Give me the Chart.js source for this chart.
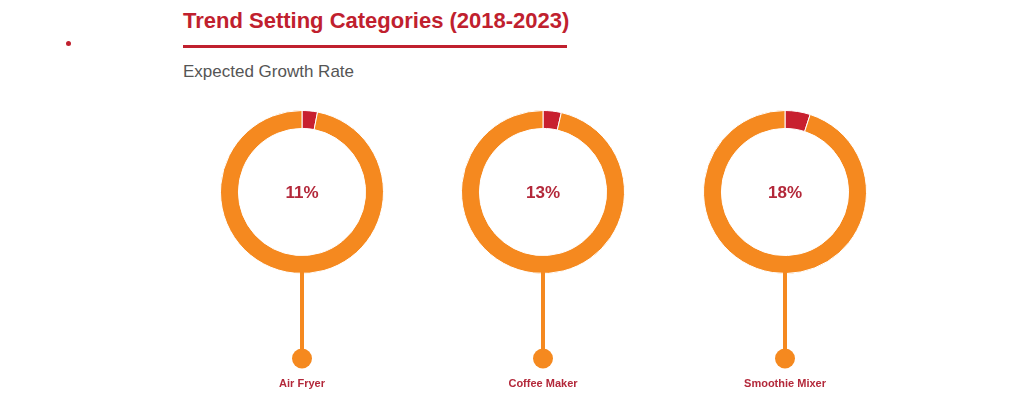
<!DOCTYPE html>
<html>
<head>
<meta charset="utf-8">
<script src="https://cdn.jsdelivr.net/npm/chart.js@4.4.0/dist/chart.umd.min.js"></script>
<style>
  body { margin: 0; background: #fff; width: 1024px; height: 395px; overflow: hidden; position: relative; font-family: "Liberation Sans", Arial, sans-serif; }
  .dot { position: absolute; left: 66px; top: 41px; width: 5px; height: 5px; border-radius: 50%; background: #c0202e; }
  .title { position: absolute; left: 183px; top: 8px; font-size: 22px; font-weight: bold; color: #c0202e; white-space: nowrap; }
  .rule { position: absolute; left: 183px; top: 45px; width: 384px; height: 3px; background: #c0202e; }
  .subtitle { position: absolute; left: 183px; top: 62px; font-size: 17px; color: #555; white-space: nowrap; }
  .box { position: absolute; top: 105px; width: 200px; height: 290px; }
</style>
</head>
<body>
<div class="dot"></div>
<div class="title">Trend Setting Categories (2018-2023)</div>
<div class="rule"></div>
<div class="subtitle">Expected Growth Rate</div>
<div class="box" style="left:202px"><canvas id="c0" width="200" height="290"></canvas></div>
<div class="box" style="left:443px"><canvas id="c1" width="200" height="290"></canvas></div>
<div class="box" style="left:685px"><canvas id="c2" width="200" height="290"></canvas></div>
<script>
// data
const categories = ['Air Fryer', 'Coffee Maker', 'Smoothie Mixer'];
const growthRates = [11, 13, 18];   // percent, also the red arc in degrees
const fullCircle = 360;

const ORANGE = '#f5891f';
const RED = '#c8202f';
const TEXT_RED = '#b3283a';

// stem + ball + label under each ring, and the % in the middle
const stemPlugin = {
  id: 'stem',
  afterDraw(chart) {
    const arc = chart.getDatasetMeta(0).data[0];
    const ctx = chart.ctx;
    const cx = arc.x, cy = arc.y, r = arc.outerRadius;
    const idx = chart.options.plugins.stem.index;

    ctx.save();
    ctx.strokeStyle = ORANGE;
    ctx.lineWidth = 4;
    ctx.beginPath();
    ctx.moveTo(cx, cy + r - 2);
    ctx.lineTo(cx, cy + r + 80);
    ctx.stroke();

    ctx.fillStyle = ORANGE;
    ctx.beginPath();
    ctx.arc(cx, cy + r + 85, 10, 0, Math.PI * 2);
    ctx.fill();

    ctx.fillStyle = TEXT_RED;
    ctx.textAlign = 'center';
    ctx.textBaseline = 'middle';
    ctx.font = 'bold 11px "Liberation Sans", Arial, sans-serif';
    ctx.fillText(categories[idx], cx, cy + r + 110);

    ctx.font = 'bold 17px "Liberation Sans", Arial, sans-serif';
    ctx.fillText(growthRates[idx] + '%', cx, cy + 1);
    ctx.restore();
  }
};

categories.forEach((name, i) => {
  new Chart(document.getElementById('c' + i), {
    type: 'doughnut',
    data: {
      labels: [name, ''],
      datasets: [{
        data: [growthRates[i], fullCircle - growthRates[i]],
        backgroundColor: [RED, ORANGE],
        borderColor: '#fff',
        borderWidth: 1,
        hoverOffset: 0
      }]
    },
    options: {
      responsive: false,
      animation: false,
      cutout: '78%',
      layout: { padding: { left: 18, right: 18, top: 5, bottom: 121 } },
      plugins: {
        legend: { display: false },
        tooltip: { enabled: false },
        stem: { index: i }
      }
    },
    plugins: [stemPlugin]
  });
});
</script>
</body>
</html>
